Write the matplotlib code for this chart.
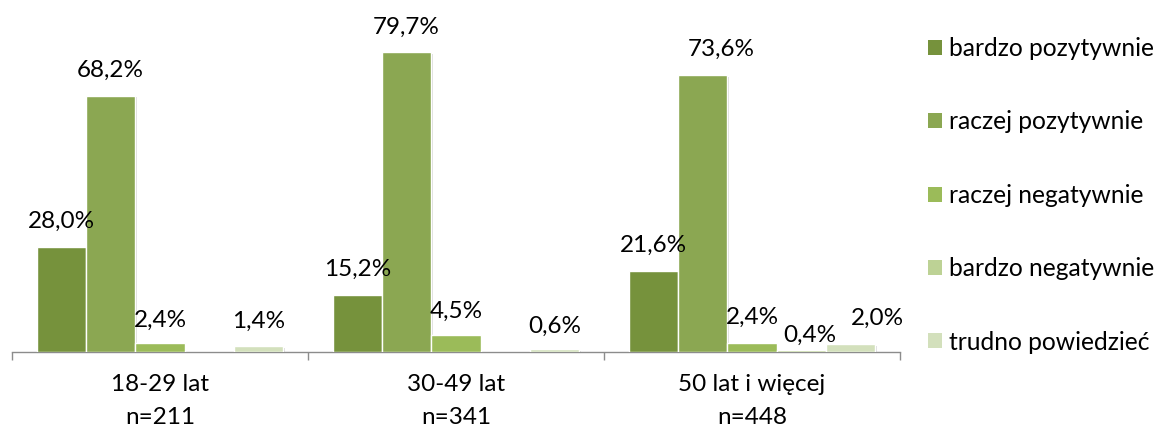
import matplotlib
matplotlib.use("Agg")
import matplotlib.pyplot as plt
import matplotlib.patheffects as pe
from matplotlib.patches import Patch
import numpy as np

plt.rcParams['font.family'] = ['Lato', 'DejaVu Sans']

# Age groups and sample sizes
groups = ["18-29 lat", "30-49 lat", "50 lat i więcej"]
sample_sizes = ["n=211", "n=341", "n=448"]

# Answer categories (series)
answers = ["bardzo pozytywnie", "raczej pozytywnie", "raczej negatywnie",
           "bardzo negatywnie", "trudno powiedzieć"]

# Percent of respondents per answer, per age group
bardzo_pozytywnie = [28.0, 15.2, 21.6]
raczej_pozytywnie = [68.2, 79.7, 73.6]
raczej_negatywnie = [2.4, 4.5, 2.4]
bardzo_negatywnie = [0.0, 0.0, 0.4]
trudno_powiedziec = [1.4, 0.6, 2.0]
series = [bardzo_pozytywnie, raczej_pozytywnie, raczej_negatywnie,
          bardzo_negatywnie, trudno_powiedziec]

colors = ["#76923C", "#8BA752", "#9BBB59", "#BDD295", "#D3E0BC"]

# label nudges in pixels (dx, baseline height above bar top)
label_dx = [[0, 0, 0], [0, 0, 19], [0, 0, 0], [0, 0, 8], [0, 0, 27]]
label_dy = [[19, 19, 19], [19, 19, 19], [16, 17, 19], [19, 19, 8], [19, 17, 19]]

W, H, DPI = 1156, 430, 100
fig = plt.figure(figsize=(W / DPI, H / DPI), dpi=DPI)
ax = fig.add_axes([12 / W, (H - 351.7) / H, 888 / W, 338 / H])

n = len(series)
bw = 1.0 / (n + 1)
x = np.arange(len(groups))
shadow = [pe.SimplePatchShadow(offset=(1.2, -1.2), shadow_rgbFace="#9a9a9a", alpha=0.35),
          pe.Normal()]

px2pt = 72.0 / DPI
for k, (vals, col) in enumerate(zip(series, colors)):
    pos = x + (k - (n - 1) / 2) * bw
    bars = ax.bar(pos, vals, width=bw, color=col, edgecolor="white",
                  linewidth=1.0, zorder=3)
    for b in bars:
        b.set_path_effects(shadow)
    for i, (p, v) in enumerate(zip(pos, vals)):
        if v <= 0:
            continue
        ax.annotate(f"{v:.1f}%".replace(".", ","), xy=(p, v),
                    xytext=(label_dx[k][i] * px2pt, label_dy[k][i] * px2pt),
                    textcoords="offset points", ha="center", va="baseline",
                    fontsize=17.5, color="black", zorder=5)

ax.set_xlim(-0.5, len(groups) - 0.5)
ax.set_ylim(0, 90)

for s in ["top", "right", "left"]:
    ax.spines[s].set_visible(False)
ax.spines["bottom"].set_color("#8c8c8c")
ax.spines["bottom"].set_linewidth(1.0)
ax.set_yticks([])

ax.set_xticks(np.arange(len(groups) + 1) - 0.5)
ax.set_xticklabels([])
ax.tick_params(axis="x", which="major", length=6, width=1.0, color="#8c8c8c",
               direction="out")
ax.set_xticks(x, minor=True)
ax.set_xticklabels([f"{g}\n{s}" for g, s in zip(groups, sample_sizes)],
                   minor=True, fontsize=17.5, linespacing=1.72)
ax.tick_params(axis="x", which="minor", length=0, pad=16)

handles = [Patch(facecolor=c, edgecolor="none") for c in colors]
fig.legend(handles, answers, loc="upper left",
           bbox_to_anchor=(928 / W, 1 - 37 / H), frameon=False,
           fontsize=17.7, handlelength=0.56, handleheight=0.56,
           handletextpad=0.3, labelspacing=2.05, borderpad=0, borderaxespad=0)

fig.savefig("out.png", dpi=DPI, facecolor="white")
